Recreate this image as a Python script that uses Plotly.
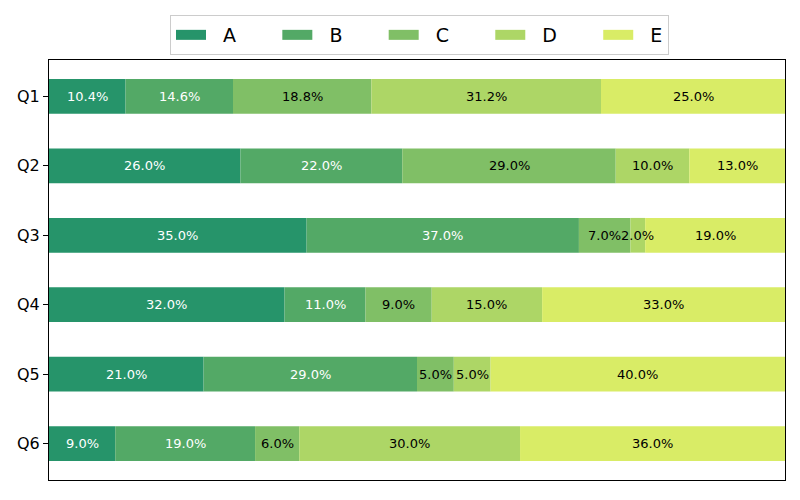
import plotly.graph_objects as go

categories = ["Q1", "Q2", "Q3", "Q4", "Q5", "Q6"]
series_names = ["A", "B", "C", "D", "E"]
A = [10.4, 26.0, 35.0, 32.0, 21.0, 9.0]
B = [14.6, 22.0, 37.0, 11.0, 29.0, 19.0]
C = [18.8, 29.0, 7.0, 9.0, 5.0, 6.0]
D = [31.2, 10.0, 2.0, 15.0, 5.0, 30.0]
E = [25.0, 13.0, 19.0, 33.0, 40.0, 36.0]
series = [A, B, C, D, E]
colors = ["#26946a", "#53a966", "#80bf66", "#add666", "#d9ec66"]
text_colors = ["white", "white", "black", "black", "black"]

NB = "\u00a0"
fig = go.Figure()
annotations = []
cum = [0.0] * len(categories)
n_series = len(series_names)
for k, (name, vals, col, tcol) in enumerate(zip(series_names, series, colors, text_colors)):
    fig.add_trace(go.Bar(
        y=categories, x=vals, base=cum[:], orientation="h", name=name,
        marker=dict(color=col, line=dict(width=0)), width=0.5,
        showlegend=False, hoverinfo="x+y",
    ))
    label = NB * 2 + name + (NB * 6 if k < n_series - 1 else "")
    fig.add_trace(go.Scatter(
        x=[None], y=[None], mode="lines", name=label,
        line=dict(color=col, width=14), showlegend=True,
    ))
    for i, (c, v) in enumerate(zip(categories, vals)):
        annotations.append(dict(
            x=cum[i] + v / 2, y=c, text=f"{v:.1f}%", showarrow=False,
            font=dict(color=tcol, size=13, family="DejaVu Sans"),
            xref="x", yref="y",
        ))
        cum[i] += v

# the page body adds an 8px offset, so margins are compensated
fig.update_layout(
    width=800, height=500,
    margin=dict(l=40.5, r=23, t=51.5, b=28, autoexpand=False),
    plot_bgcolor="white", paper_bgcolor="white",
    font=dict(family="DejaVu Sans", color="black"),
    barmode="overlay",
    showlegend=True,
    legend=dict(
        orientation="h", xref="container", yref="container",
        x=0.2025, xanchor="left", y=0.986, yanchor="top",
        font=dict(size=19), bordercolor="#cccccc", borderwidth=1,
        itemwidth=30, tracegroupgap=0,
    ),
    annotations=annotations,
)
fig.update_xaxes(
    range=[0, 100], showticklabels=False, ticks="", showgrid=False,
    zeroline=False, showline=True, linecolor="black", linewidth=1, mirror=True,
    fixedrange=True, automargin=False,
)
fig.update_yaxes(
    categoryorder="array", categoryarray=categories,
    range=[5.525, -0.525], showgrid=False, zeroline=False,
    showline=True, linecolor="black", linewidth=1, mirror=True,
    ticks="outside", ticklen=5, tickcolor="black",
    tickfont=dict(size=16), fixedrange=True, automargin=False,
)

fig.write_html("out.html")
